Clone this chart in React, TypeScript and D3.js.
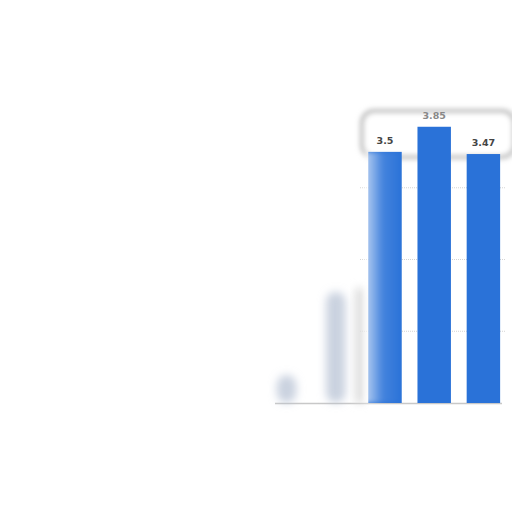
import { useEffect, useRef } from 'react'
import * as d3 from 'd3'

const categories = ['c1', 'c2', 'c3', 'c4', 'c5']
const values = [0.39, 1.55, 3.5, 3.85, 3.47]
// first two bars are washed out in the reference, only the last three are solid
const visible = [false, false, true, true, true]
const yTicks = [0, 1, 2, 3, 4]

export default function App() {
  const svgRef = useRef<SVGSVGElement>(null)

  useEffect(() => {
    if (!svgRef.current) return
    const svg = d3.select(svgRef.current)
    svg.selectAll('*').remove()

    const xScale = d3
      .scaleBand<string>()
      .domain(categories)
      .range([262, 508])
      .paddingInner(0.32)
      .paddingOuter(0.16)

    const yScale = d3.scaleLinear().domain([0, 4]).range([403, 116])

    const defs = svg.append('defs')
    defs
      .append('filter')
      .attr('id', 'blur')
      .attr('x', '-50%')
      .attr('y', '-50%')
      .attr('width', '200%')
      .attr('height', '200%')
      .append('feGaussianBlur')
      .attr('stdDeviation', 4.5)
    defs
      .append('filter')
      .attr('id', 'soft')
      .attr('x', '-20%')
      .attr('y', '-50%')
      .attr('width', '140%')
      .attr('height', '200%')
      .append('feGaussianBlur')
      .attr('stdDeviation', 2.5)

    const fade = defs
      .append('linearGradient')
      .attr('id', 'fade')
      .attr('x1', '0%')
      .attr('x2', '100%')
      .attr('y1', '0%')
      .attr('y2', '0%')
    fade.append('stop').attr('offset', '0%').attr('stop-color', '#ffffff').attr('stop-opacity', 0.7)
    fade.append('stop').attr('offset', '50%').attr('stop-color', '#ffffff').attr('stop-opacity', 0.12)
    fade.append('stop').attr('offset', '100%').attr('stop-color', '#ffffff').attr('stop-opacity', 0)

    const data = categories.map((c, i) => ({ c, v: values[i], on: visible[i] }))

    // halo around the top labels, sitting behind the bars
    svg
      .append('rect')
      .attr('x', 362)
      .attr('y', 111)
      .attr('width', 152)
      .attr('height', 46)
      .attr('rx', 12)
      .attr('fill', '#fff')
      .attr('stroke', '#bdbdbd')
      .attr('stroke-width', 4)
      .attr('filter', 'url(#soft)')

    // grid lines
    svg
      .append('g')
      .selectAll('line')
      .data(yTicks.slice(1, 4))
      .enter()
      .append('line')
      .attr('x1', 360)
      .attr('x2', 506)
      .attr('y1', (d) => yScale(d))
      .attr('y2', (d) => yScale(d))
      .attr('stroke', '#d4d4d4')
      .attr('stroke-dasharray', '1,1')

    // baseline
    svg
      .append('line')
      .attr('x1', 275)
      .attr('x2', 502)
      .attr('y1', yScale(0) + 0.5)
      .attr('y2', yScale(0) + 0.5)
      .attr('stroke', '#c8c8c8')
      .attr('stroke-width', 1.5)

    // ghost bars
    svg
      .append('g')
      .attr('filter', 'url(#blur)')
      .selectAll('rect')
      .data(data.filter((d) => !d.on))
      .enter()
      .append('rect')
      .attr('x', (d) => (xScale(d.c) || 0) + 7)
      .attr('width', xScale.bandwidth() - 14)
      .attr('y', (d) => yScale(d.v))
      .attr('height', (d) => yScale(0) - yScale(d.v))
      .attr('rx', 10)
      .attr('fill', '#b3bfd2')
      .attr('opacity', 0.7)

    // smear between ghost and first solid bar
    svg
      .append('rect')
      .attr('x', (xScale('c3') || 0) - 13)
      .attr('width', 9)
      .attr('y', yScale(1.6))
      .attr('height', yScale(0) - yScale(1.6))
      .attr('fill', '#dcdcdc')
      .attr('filter', 'url(#blur)')

    // solid bars
    svg
      .append('g')
      .selectAll('rect')
      .data(data.filter((d) => d.on))
      .enter()
      .append('rect')
      .attr('x', (d) => xScale(d.c) || 0)
      .attr('width', xScale.bandwidth())
      .attr('y', (d) => yScale(d.v))
      .attr('height', (d) => yScale(0) - yScale(d.v))
      .attr('fill', '#2a72d8')

    // washed left side of the first solid bar
    svg
      .append('rect')
      .attr('x', (xScale('c3') || 0) - 4)
      .attr('width', xScale.bandwidth() + 4)
      .attr('y', yScale(3.5))
      .attr('height', yScale(0) - yScale(3.5))
      .attr('fill', 'url(#fade)')
      .attr('filter', 'url(#soft)')

    // value labels
    svg
      .append('g')
      .selectAll('text')
      .data(data.filter((d) => d.on))
      .enter()
      .append('text')
      .attr('x', (d) => (xScale(d.c) || 0) + xScale.bandwidth() / 2)
      .attr('y', (d) => yScale(d.v) - 8)
      .attr('text-anchor', 'middle')
      .attr('font-family', 'DejaVu Sans, sans-serif')
      .attr('font-size', '9.5px')
      .attr('font-weight', 'bold')
      .attr('fill', (d) => (d.v > 3.8 ? '#888' : '#444'))
      .text((d) => String(d.v))
  }, [])

  return (
    <svg
      ref={svgRef}
      width={512}
      height={512}
      style={{ position: 'absolute', left: 0, top: 0, background: '#fff' }}
    />
  )
}
